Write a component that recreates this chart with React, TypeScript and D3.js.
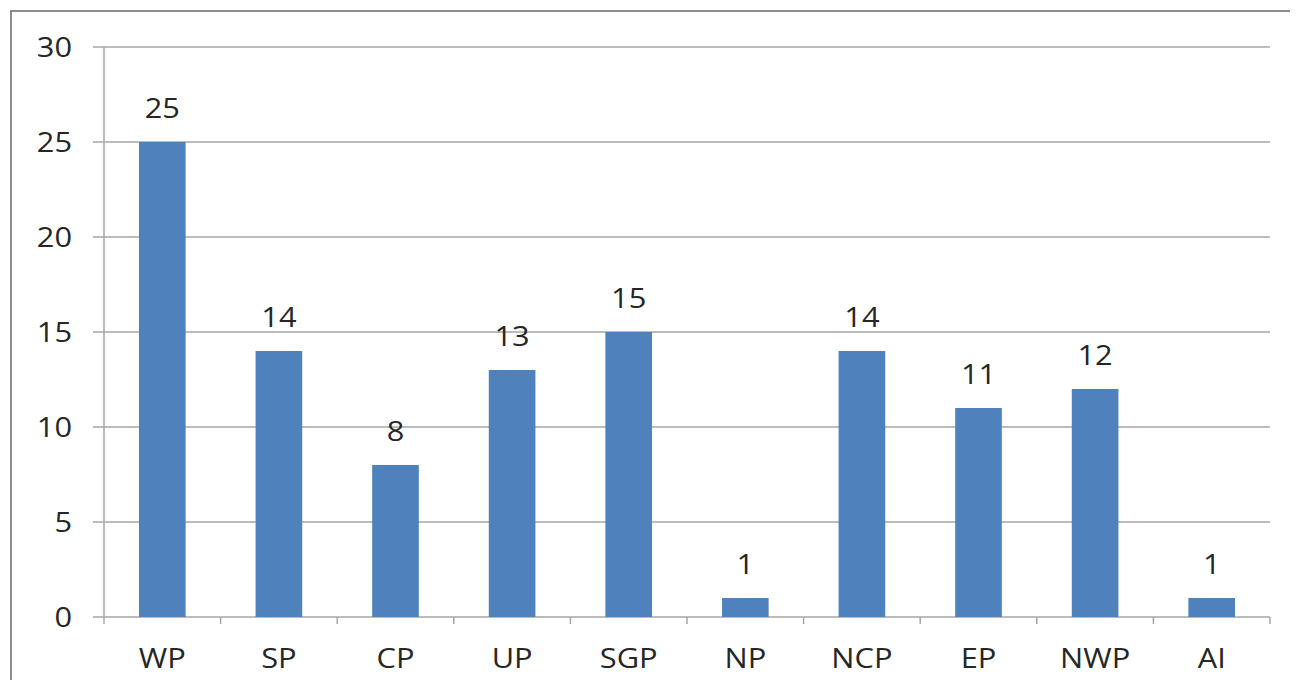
import { useEffect, useRef } from 'react';
import * as d3 from 'd3';

const categories = ['WP', 'SP', 'CP', 'UP', 'SGP', 'NP', 'NCP', 'EP', 'NWP', 'AI'];
const values = [25, 14, 8, 13, 15, 1, 14, 11, 12, 1];
const yTicks = [0, 5, 10, 15, 20, 25, 30];

const font = "'Open Sans', 'Liberation Sans', sans-serif";
const fs = 27;
const sx = 1.14; // the source image is slightly stretched horizontally

export default function App() {
  const svgRef = useRef<SVGSVGElement>(null);

  useEffect(() => {
    if (!svgRef.current) return;
    const svg = d3.select(svgRef.current);
    svg.selectAll('*').remove();

    const width = 1298, height = 688;
    const left = 104, right = 1270, top = 47, bottom = 617;

    // outer frame (right and bottom edges fall off the picture)
    svg.append('rect').attr('x', 11).attr('y', 11).attr('width', 1300).attr('height', 700)
      .attr('fill', 'none').attr('stroke', '#8c8c8c').attr('stroke-width', 2);

    const x = d3.scaleBand<string>().domain(categories).range([left, right]).paddingInner(0.6).paddingOuter(0.3);
    const xOuter = d3.scaleBand<string>().domain(categories).range([left, right]);
    const y = d3.scaleLinear().domain([0, 30]).range([bottom, top]);

    // gridlines + y ticks
    svg.append('g').selectAll('line').data(yTicks).join('line')
      .attr('x1', left - 11).attr('x2', right)
      .attr('y1', d => y(d)).attr('y2', d => y(d))
      .attr('stroke', '#a6a6a6').attr('stroke-width', 1.5);

    svg.append('g').selectAll('text').data(yTicks).join('text')
      .attr('transform', d => `translate(72,${y(d)}) scale(${sx},1)`).attr('dy', '0.36em')
      .attr('text-anchor', 'end').attr('font-family', font).attr('font-size', fs).attr('fill', '#262626')
      .text(d => d);

    // y axis line
    svg.append('line').attr('x1', left).attr('x2', left).attr('y1', top).attr('y2', bottom)
      .attr('stroke', '#a6a6a6').attr('stroke-width', 1.5);

    // x ticks at category boundaries
    const bounds = categories.map(c => xOuter(c) as number).concat([right]);
    svg.append('g').selectAll('line').data(bounds).join('line')
      .attr('x1', d => d).attr('x2', d => d).attr('y1', bottom).attr('y2', bottom + 7)
      .attr('stroke', '#a6a6a6').attr('stroke-width', 1.5);

    // bars
    svg.append('g').selectAll('rect').data(values).join('rect')
      .attr('x', (d, i) => x(categories[i]) as number)
      .attr('y', d => y(d))
      .attr('width', x.bandwidth())
      .attr('height', d => bottom - y(d))
      .attr('fill', '#4f81bd');

    // value labels
    svg.append('g').selectAll('text').data(values).join('text')
      .attr('transform', (d, i) => `translate(${(x(categories[i]) as number) + x.bandwidth() / 2},${y(d) - 24}) scale(${sx},1)`)
      .attr('text-anchor', 'middle').attr('font-family', font).attr('font-size', fs).attr('fill', '#262626')
      .text(d => d);

    // category labels
    svg.append('g').selectAll('text').data(categories).join('text')
      .attr('transform', c => `translate(${(x(c) as number) + x.bandwidth() / 2},668) scale(${sx},1)`)
      .attr('text-anchor', 'middle').attr('font-family', font).attr('font-size', fs).attr('fill', '#262626')
      .text(c => c);

    svg.attr('width', width).attr('height', height);
  }, []);

  return (
    <div style={{ margin: -8, background: '#fff', width: 1298, height: 688, overflow: 'hidden' }}>
      <svg ref={svgRef} style={{ display: 'block' }} />
    </div>
  );
}
